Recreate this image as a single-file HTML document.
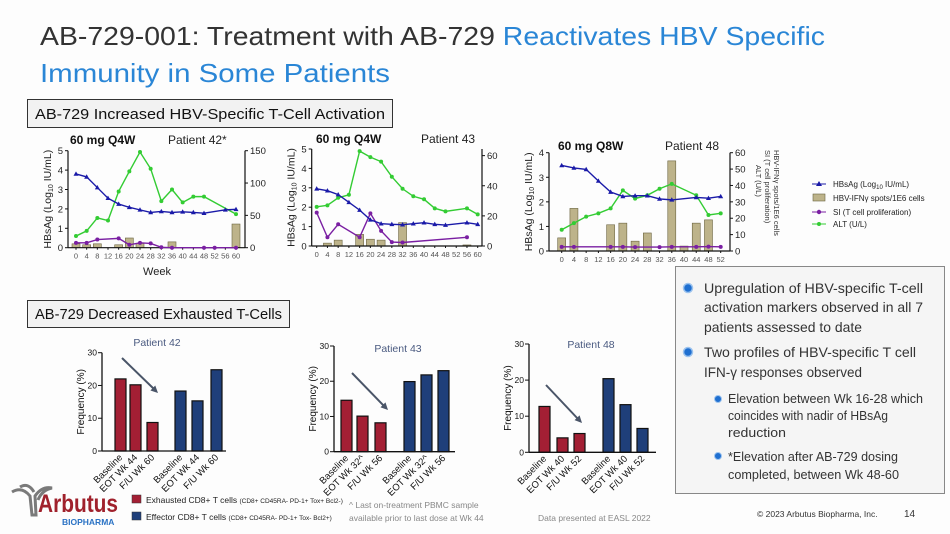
<!DOCTYPE html>
<html><head><meta charset="utf-8"><style>
body{margin:0;background:#fff;}
svg{display:block;font-family:"Liberation Sans",sans-serif;}
</style></head><body>
<svg id="s" width="950" height="534" viewBox="0 0 950 534">
<rect x="0" y="0" width="950" height="534" fill="#fdfdfd"/>
<g font-size="26" fill="#333">
<text x="40" y="45" textLength="785" lengthAdjust="spacingAndGlyphs">AB-729-001: Treatment with AB-729 <tspan fill="#2a86d6">Reactivates HBV Specific</tspan></text>
<text x="40" y="82" fill="#2a86d6" textLength="350" lengthAdjust="spacingAndGlyphs">Immunity in Some Patients</text>
</g>
<g>
<rect x="27.5" y="99.5" width="365" height="28" fill="#f2f2f2" stroke="#333"/>
<text x="35" y="119" font-size="15" fill="#111" textLength="350" lengthAdjust="spacingAndGlyphs">AB-729 Increased HBV-Specific T-Cell Activation</text>
</g>
<g>
<rect x="27.5" y="300.5" width="262" height="27" fill="#f2f2f2" stroke="#333"/>
<text x="35" y="319" font-size="15" fill="#111" textLength="247" lengthAdjust="spacingAndGlyphs">AB-729 Decreased Exhausted T-Cells</text>
</g>
<g>
<rect x="675.5" y="266.5" width="269" height="227" fill="#f5f5f5" stroke="#888"/>
<g font-size="14" fill="#333">
<circle cx="688" cy="288" r="4.5" fill="#1f6fd0" stroke="#9cc3ee" stroke-width="1.5"/>
<text x="704" y="293" textLength="219" lengthAdjust="spacingAndGlyphs">Upregulation of HBV-specific T-cell</text>
<text x="704" y="312" textLength="219" lengthAdjust="spacingAndGlyphs">activation markers observed in all 7</text>
<text x="704" y="332" textLength="158" lengthAdjust="spacingAndGlyphs">patients assessed to date</text>
<circle cx="688" cy="352" r="4.5" fill="#1f6fd0" stroke="#9cc3ee" stroke-width="1.5"/>
<text x="704" y="357" textLength="212" lengthAdjust="spacingAndGlyphs">Two profiles of HBV-specific T cell</text>
<text x="704" y="377" textLength="158" lengthAdjust="spacingAndGlyphs">IFN-γ responses observed</text>
</g>
<g font-size="12.5" fill="#333">
<circle cx="718" cy="399" r="3.5" fill="#1f6fd0" stroke="#9cc3ee"/>
<text x="728" y="403" textLength="195" lengthAdjust="spacingAndGlyphs">Elevation between Wk 16-28 which</text>
<text x="728" y="420" textLength="160" lengthAdjust="spacingAndGlyphs">coincides with nadir of HBsAg</text>
<text x="728" y="437" textLength="58" lengthAdjust="spacingAndGlyphs">reduction</text>
<circle cx="718" cy="456" r="3.5" fill="#1f6fd0" stroke="#9cc3ee"/>
<text x="728" y="461" textLength="170" lengthAdjust="spacingAndGlyphs">*Elevation after AB-729 dosing</text>
<text x="728" y="479" textLength="171" lengthAdjust="spacingAndGlyphs">completed, between Wk 48-60</text>
</g>
</g>
<g font-size="8" fill="#222">
<line x1="812" y1="184" x2="826" y2="184" stroke="#1a1aa8"/><path d="M819 181 L822 186 L816 186Z" fill="#1a1aa8"/>
<text x="833" y="187">HBsAg (Log<tspan font-size="6" dy="2">10</tspan><tspan dy="-2"> IU/mL)</tspan></text>
<rect x="813" y="194" width="12" height="7" fill="#bdb38a" stroke="#6b6440" stroke-width="0.6"/>
<text x="833" y="201">HBV-IFNγ spots/1E6 cells</text>
<line x1="812" y1="212" x2="826" y2="212" stroke="#7a1fa2"/><circle cx="819" cy="212" r="2.2" fill="#7a1fa2"/>
<text x="833" y="215">SI (T cell proliferation)</text>
<line x1="812" y1="224" x2="826" y2="224" stroke="#33cc33"/><circle cx="819" cy="224" r="2" fill="#33cc33"/>
<text x="833" y="227">ALT (U/L)</text>
</g>
<g font-size="7.5" fill="#333">
<text transform="translate(774,150) rotate(90)">HBV-IFNγ spots/1E6 cells</text>
<text transform="translate(765,150) rotate(90)">SI (T cell proliferation)</text>
<text transform="translate(756,165) rotate(90)">ALT (U/L)</text>
</g>
<g>
<path d="M12 492 Q22 486 30 496 L32 515 L36 515 L35 496 Q42 486 52 488 Q42 490 38 500 M20 487 Q28 482 34 492" fill="none" stroke="#7a7a7a" stroke-width="3"/>
<text x="38" y="512" font-size="25" font-weight="bold" fill="#a0212c" textLength="80" lengthAdjust="spacingAndGlyphs">Arbutus</text>
<text x="62" y="525" font-size="8.5" font-weight="bold" fill="#2a72c4">BIOPHARMA</text>
</g>
<g fill="#222">
<rect x="132" y="495" width="9" height="8" fill="#a31f34" stroke="#333" stroke-width="0.5"/>
<text x="146" y="503" font-size="8.5">Exhausted CD8+ T cells <tspan font-size="6.5">(CD8+ CD45RA- PD-1+ Tox+ Bcl2-)</tspan></text>
<rect x="132" y="512" width="9" height="8" fill="#1f3f7a" stroke="#333" stroke-width="0.5"/>
<text x="146" y="520" font-size="8.5">Effector CD8+ T cells <tspan font-size="6.5">(CD8+ CD45RA- PD-1+ Tox- Bcl2+)</tspan></text>
</g>
<g font-size="8.5" fill="#888">
<text x="349" y="508">^ Last on-treatment PBMC sample</text>
<text x="349" y="521">available prior to last dose at Wk 44</text>
</g>
<text x="538" y="521" font-size="8.5" fill="#888">Data presented at EASL 2022</text>
<text x="757" y="517" font-size="8.5" fill="#333">© 2023 Arbutus Biopharma, Inc.</text>
<text x="904" y="517" font-size="10" fill="#333">14</text>
<g id="charts"></g>
</svg>
<script>
// ---- Top chart data ----
const weeks42 = [0,4,8,12,16,20,24,28,32,36,40,44,48,56,60];
const hbsag42 = [3.8,3.65,3.1,2.55,2.25,2.08,1.95,1.82,1.87,1.82,1.85,1.82,1.78,1.95,1.98];
const altWeeks42 = [0,4,8,12,16,20,24,28,32,36,40,44,48,60];
const alt42 = [18,26,46,42,87,118,148,122,72,90,70,79,79,52];
const siWeeks42 = [0,4,8,16,20,24,28,32,36,48,52,60];
const si42 = [0.25,0.25,0.42,0.48,0.15,0.25,0.22,0.02,0,0,0,0];
const ifnWeeks42 = [0,4,8,16,20,24,36,60];
const ifn42 = [6,4.5,6,4.5,15,6.6,9,36.6];

const weeks43 = [0,4,8,12,16,20,24,28,32,36,40,44,48,56,60];
const hbsag43 = [2.95,2.85,2.65,2.25,1.85,1.35,1.15,1.12,1.1,1.15,1.2,1.12,1.08,1.2,1.12];
const alt43 = [26,27,32,34,63,59,56,46,38,33,31,25,23,25,21];
const siWeeks43 = [0,4,8,16,20,24,28,32,56];
const si43 = [1.72,0.45,1.12,0.45,1.68,0.78,0.2,0.18,0.45];
const ifnWeeks43 = [4,8,16,20,24,32,56];
const ifn43 = [1.9,3.9,7.7,4.5,3.9,15.5,0.7];

const weeks48 = [0,4,8,12,16,20,24,28,32,36,44,48,52];
const hbsag48 = [3.48,3.38,3.32,2.85,2.4,2.22,2.25,2.25,2.12,2.08,2.18,2.15,2.22];
const alt48 = [13,17,21,23,26,37,32,34,38,41,34,22,23];
const siWeeks48 = [0,4,16,20,24,32,36,44,48,52];
const si48 = [0.17,0.17,0.17,0.17,0.16,0.16,0.17,0.17,0.18,0.17];
const ifnWeeks48 = [0,4,16,20,24,28,36,40,44,48];
const ifn48 = [8,26,16,17,6,11,55,3,17,19];

const weekTicks60 = [0,4,8,12,16,20,24,28,32,36,40,44,48,52,56,60];
const weekTicks52 = [0,4,8,12,16,20,24,28,32,36,40,44,48,52];

// ---- Bottom chart data ----
const barCategories42 = ['Baseline','EOT Wk 44','F/U Wk 60'];
const exhausted42 = [22,20.2,8.7];
const effector42 = [18.3,15.3,24.8];
const barCategories43 = ['Baseline','EOT Wk 32^','F/U Wk 56'];
const exhausted43 = [14.6,10.1,8.2];
const effector43 = [19.9,21.8,23];
const barCategories48 = ['Baseline','EOT Wk 40','F/U Wk 52'];
const exhausted48 = [12.7,4,5.2];
const effector48 = [20.4,13.2,6.6];
const freqTicks = [0,10,20,30];

const NS='http://www.w3.org/2000/svg';
const root=document.getElementById('charts');
function mk(tag,attrs,parent){const e=document.createElementNS(NS,tag);for(const k in attrs)e.setAttribute(k,attrs[k]);(parent||root).appendChild(e);return e;}
function txt(s,attrs,parent){const e=mk('text',attrs,parent);e.textContent=s;return e;}

function lineChart(c){
  const g=mk('g',{});
  
  
  const X=w=>c.x0+(w-c.wMin)/(c.wMax-c.wMin)*(c.x1-c.x0);
  const YL=v=>c.yb-v/c.lMax*(c.yb-c.yt);
  const YR=v=>c.yb-v/c.rMax*(c.yb-c.yt);
  c.ifnW.forEach((w,i)=>{const r=mk('rect',{x:X(w)-4,y:YR(c.ifn[i]),width:8,height:c.yb-YR(c.ifn[i]),fill:'#bdb38a',stroke:'#6b6440','stroke-width':0.6},g);
    });
  mk('line',{x1:c.ax,y1:c.yt,x2:c.ax,y2:c.yb,stroke:'#111','stroke-width':1.2},g);
  mk('line',{x1:c.ax,y1:c.yb,x2:c.rx,y2:c.yb,stroke:'#111','stroke-width':1.2},g);
  mk('line',{x1:c.rx,y1:c.yt,x2:c.rx,y2:c.yb,stroke:'#111','stroke-width':1.2},g);
  c.lTicks.forEach(v=>{mk('line',{x1:c.ax-3,x2:c.ax,y1:YL(v),y2:YL(v),stroke:'#111'},g);
    txt(String(v),{x:c.ax-5,y:YL(v)+3.5,'font-size':9.5,'text-anchor':'end',fill:'#222'},g);});
  c.rTicks.forEach(v=>{mk('line',{x1:c.rx,x2:c.rx+3,y1:YR(v),y2:YR(v),stroke:'#111'},g);
    txt(String(v),{x:c.rx+5,y:YR(v)+3.5,'font-size':9.5,fill:'#222'},g);});
  c.wTicks.forEach(w=>{mk('line',{x1:X(w),x2:X(w),y1:c.yb,y2:c.yb+2,stroke:'#111'},g);
    txt(String(w),{x:X(w),y:c.yb+11,'font-size':7.5,'text-anchor':'middle',fill:'#555'},g);});
  const yt=txt('',{transform:`translate(${c.ax-17},${(c.yt+c.yb)/2}) rotate(-90)`,'font-size':10.5,'text-anchor':'middle',fill:'#222'},g);
  yt.innerHTML='HBsAg (Log<tspan font-size="7" dy="2">10</tspan><tspan dy="-2"> IU/mL)</tspan>';
  
  function series(ws,vs,Y,color,shape,nm){
    const pts=ws.map((w,i)=>[X(w),Y(vs[i])]);
    const p=mk('polyline',{points:pts.map(p=>p.join(',')).join(' '),fill:'none',stroke:color,'stroke-width':1.4},g);
    
    pts.forEach(([x,y])=>{ if(shape==='tri') mk('path',{d:`M${x} ${y-2.6}L${x+2.5} ${y+1.8}L${x-2.5} ${y+1.8}Z`,fill:color},g);
      else mk('circle',{cx:x,cy:y,r:2,fill:color},g);});
  }
  series(c.altW,c.alt,YR,'#33cc33','dot','alt-line');
  series(c.siW,c.si,YL,'#7a1fa2','dot','si-line');
  series(c.hW,c.h,YL,'#1a1aa8','tri','hbsag-line');
  const t1=txt(c.dose,{x:c.tx1,y:c.ty,'font-size':12,'font-weight':'bold',fill:'#111'},g);
  
  const t2=txt(c.pt,{x:c.tx2,y:c.ty,'font-size':12,fill:'#222'},g);
  
  return g;
}
lineChart({name:'chart-patient-42',x0:76,x1:236,wMin:0,wMax:60,ax:68,rx:245,yt:150.7,yb:247.7,lMax:5,rMax:150,
  lTicks:[0,1,2,3,4,5],rTicks:[0,50,100,150],wTicks:weekTicks60,hW:weeks42,h:hbsag42,altW:altWeeks42,alt:alt42,siW:siWeeks42,si:si42,ifnW:ifnWeeks42,ifn:ifn42,
  dose:'60 mg Q4W',pt:'Patient 42*',tx1:70,tx2:168,ty:144});
const wk=txt('Week',{x:157,y:275,'font-size':11,'text-anchor':'middle',fill:'#222'});


lineChart({name:'chart-patient-43',x0:316.7,x1:477.7,wMin:0,wMax:60,ax:311.7,rx:482,yt:149,yb:246,lMax:5,rMax:64.4,
  lTicks:[0,1,2,3,4,5],rTicks:[0,20,40,60],wTicks:weekTicks60,hW:weeks43,h:hbsag43,altW:weeks43,alt:alt43,siW:siWeeks43,si:si43,ifnW:ifnWeeks43,ifn:ifn43,
  dose:'60 mg Q4W',pt:'Patient 43',tx1:316,tx2:421,ty:143});
lineChart({name:'chart-patient-48',x0:561.7,x1:720.7,wMin:0,wMax:52,ax:549,rx:730,yt:152.7,yb:251,lMax:4,rMax:60,
  lTicks:[0,1,2,3,4],rTicks:[0,10,20,30,40,50,60],wTicks:weekTicks52,hW:weeks48,h:hbsag48,altW:weeks48,alt:alt48,siW:siWeeks48,si:si48,ifnW:ifnWeeks48,ifn:ifn48,
  dose:'60 mg Q8W',pt:'Patient 48',tx1:558,tx2:665,ty:150});

function barChart(c){
  const g=mk('g',{});
  
  
  const Y=v=>c.yb-v/30*(c.yb-c.yt);
  const all=c.red.map((v,i)=>[v,'#a31f34',c.rx[i],c.cats[i]]).concat(c.blue.map((v,i)=>[v,'#1f3f7a',c.bx[i],c.cats[i]]));
  all.forEach(([v,col,x,cat])=>{
    const r=mk('rect',{x:x,y:Y(v),width:11,height:c.yb-Y(v),fill:col,stroke:'#111','stroke-width':1.2},g);
    
    txt(cat,{transform:`translate(${x+8},${c.yb+7}) rotate(-45)`,'font-size':9.5,'text-anchor':'end',fill:'#111'},g);
  });
  mk('line',{x1:c.ax,y1:c.yt,x2:c.ax,y2:c.yb,stroke:'#111','stroke-width':1.3},g);
  mk('line',{x1:c.ax,y1:c.yb,x2:c.xe,y2:c.yb,stroke:'#111','stroke-width':1.3},g);
  freqTicks.forEach(v=>{mk('line',{x1:c.ax-4,x2:c.ax,y1:Y(v),y2:Y(v),stroke:'#111'},g);
    txt(String(v),{x:c.ax-5,y:Y(v)+3,'font-size':8.5,'text-anchor':'end',fill:'#111'},g);});
  const yt=txt('Frequency (%)',{transform:`translate(${c.ax-18},${(c.yt+c.yb)/2}) rotate(-90)`,'font-size':10,'text-anchor':'middle',fill:'#111'},g);
  
  const t=txt(c.title,{x:c.tx,y:c.ty,'font-size':10.5,fill:'#4a5a80','text-anchor':'middle'},g);
  
  const [a,b,d,e]=c.arrow;
  mk('line',{x1:a,y1:b,x2:d-3,y2:e-3,stroke:'#4a5568','stroke-width':2},g);
  const ang=Math.atan2(e-b,d-a);
  const p=(l,o)=>[d-l*Math.cos(ang+o),e-l*Math.sin(ang+o)].join(',');
  mk('polygon',{points:`${d},${e} ${p(8,0.45)} ${p(8,-0.45)}`,fill:'#4a5568'},g);
}
barChart({name:'bar-chart-patient-42',ax:102,xe:226,yt:352.7,yb:451,red:exhausted42,blue:effector42,cats:barCategories42,
  rx:[115,130,147],bx:[175,192,211],title:'Patient 42',tx:157,ty:346,arrow:[122,358,158,393]});
barChart({name:'bar-chart-patient-43',ax:334,xe:455,yt:346,yb:451.7,red:exhausted43,blue:effector43,cats:barCategories43,
  rx:[341,357,375],bx:[404,421,438],title:'Patient 43',tx:398,ty:352,arrow:[352,373,388,410]});
barChart({name:'bar-chart-patient-48',ax:529,xe:656,yt:344,yb:452.3,red:exhausted48,blue:effector48,cats:barCategories48,
  rx:[539,557,574],bx:[603,620,637],title:'Patient 48',tx:591,ty:348,arrow:[546,385,582,423]});
</script>
</body></html>
